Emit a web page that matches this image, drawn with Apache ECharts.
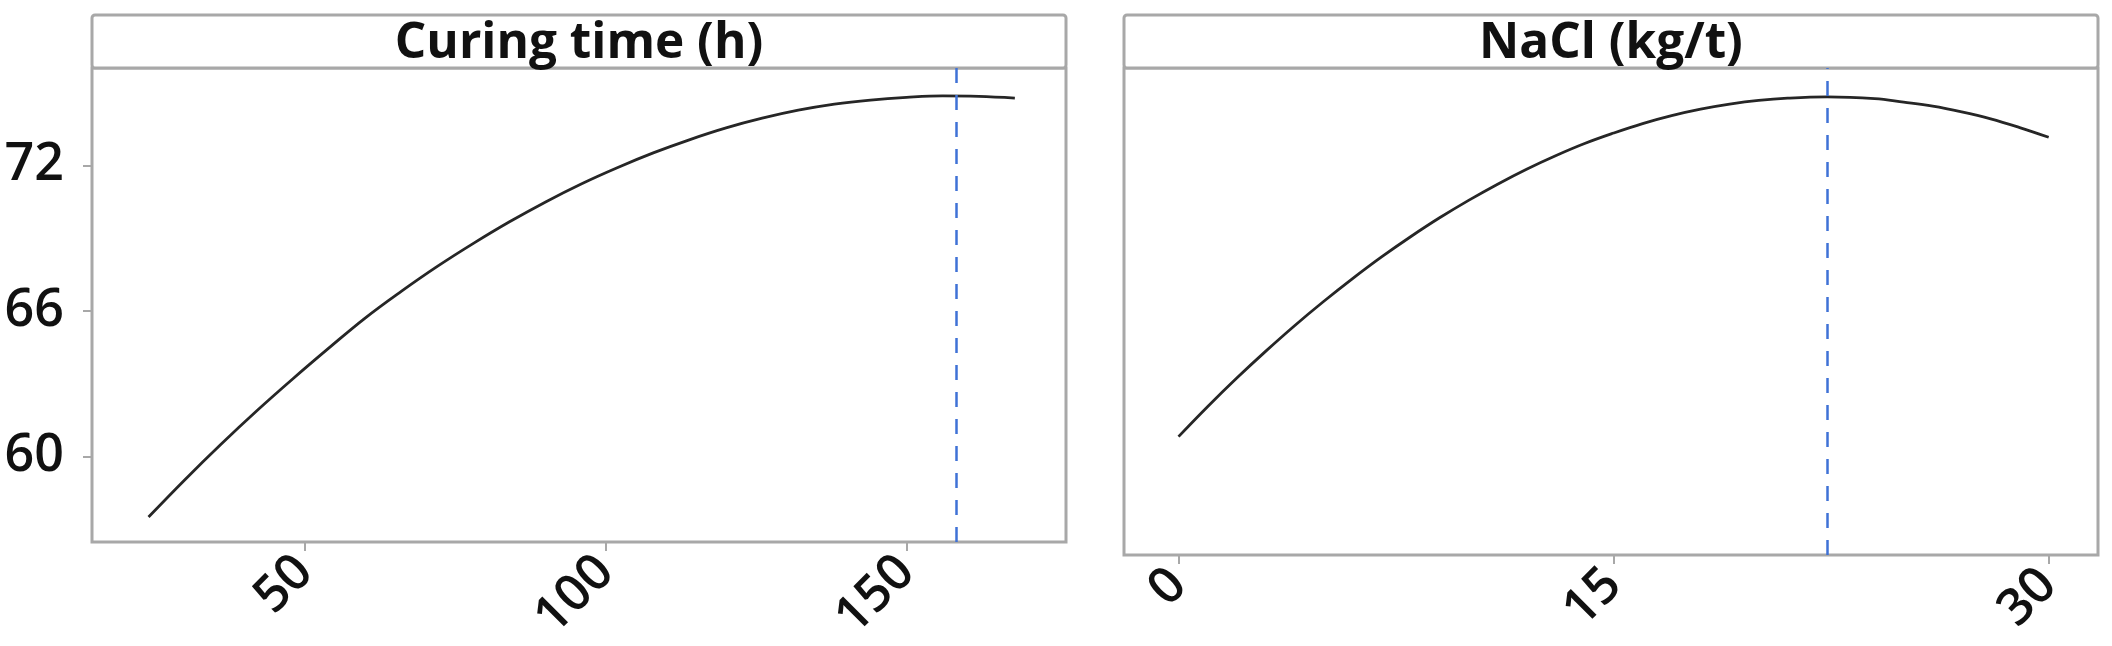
<!DOCTYPE html>
<html>
<head>
<meta charset="utf-8">
<script src="https://cdn.jsdelivr.net/npm/echarts@6/dist/echarts.min.js"></script>
<style>
  html, body { margin: 0; padding: 0; background: #fff; }
  #chart { width: 2112px; height: 646px; }
</style>
</head>
<body>
<div id="chart"></div>
<script>
// Panel titles
const panelTitles = ['Curing time (h)', 'NaCl (kg/t)'];

// Left panel: Curing time (h) vs predicted response
const curingX = [24, 30, 36, 42, 48, 54, 60, 66, 72, 78, 84, 90, 96, 102, 108, 114, 120, 126, 132, 138, 144, 150, 156, 162, 168];
const curingY = [57.50, 59.03, 60.49, 61.88, 63.20, 64.47, 65.70, 66.80, 67.83, 68.78, 69.67, 70.49, 71.24, 71.91, 72.52, 73.06, 73.54, 73.94, 74.27, 74.52, 74.69, 74.80, 74.86, 74.84, 74.77];

// Right panel: NaCl (kg/t) vs predicted response
const naclX = [0, 1, 2, 3, 4, 5, 6, 7, 8, 9, 10, 11, 12, 13, 14, 15, 16, 17, 18, 19, 20, 21, 22.36, 24, 25, 26, 27, 28, 29, 30];
const naclY = [61.22, 62.42, 63.56, 64.64, 65.67, 66.64, 67.56, 68.43, 69.24, 70.00, 70.70, 71.35, 71.95, 72.49, 72.98, 73.40, 73.78, 74.10, 74.36, 74.56, 74.71, 74.80, 74.85, 74.78, 74.64, 74.48, 74.25, 73.97, 73.62, 73.23];

// Optimal settings (dashed lines)
const optimum = [158.2, 22.36];

// Tick labels
const yTicks = [60, 66, 72];
const curingTicks = [50, 100, 150];
const naclTicks = [0, 15, 30];

const frameColor = '#a8a8a8';
const textColor = '#111111';
const fontFam = '"Open Sans", "Noto Sans", sans-serif';

const chart = echarts.init(document.getElementById('chart'), null, { renderer: 'canvas' });

function pairs(xs, ys) { return xs.map((x, i) => [x, ys[i]]); }

const gridLeft = [92, 1124];
const gridWidth = 974;
const gridTop = 68;
const gridHeight = 487;
const stripTop = 15;

function xAxisCfg(idx, min, max, ticks) {
  return {
    type: 'value', gridIndex: idx, min: min, max: max,
    splitLine: { show: false },
    axisLine: { show: false },
    axisTick: { show: true, customValues: ticks, length: 9, lineStyle: { color: frameColor, width: 2 } },
    axisLabel: { customValues: ticks, rotate: 45, margin: 22, fontSize: 51, fontWeight: 600, color: textColor, fontFamily: fontFam }
  };
}

const option = {
  backgroundColor: '#ffffff',
  animation: false,
  grid: gridLeft.map(l => ({
    left: l, top: gridTop, width: gridWidth, height: gridHeight,
    show: true, borderColor: frameColor, borderWidth: 3, backgroundColor: 'transparent'
  })),
  xAxis: [
    xAxisCfg(0, 14.6, 176.5, curingTicks),
    xAxisCfg(1, -1.88, 31.70, naclTicks)
  ],
  yAxis: [
    {
      type: 'value', gridIndex: 0, min: 56.47, max: 76.01,
      splitLine: { show: false },
      axisLine: { show: false },
      axisTick: { show: true, customValues: yTicks, length: 9, lineStyle: { color: frameColor, width: 2 } },
      axisLabel: { customValues: yTicks, margin: 28, fontSize: 52, fontWeight: 600, color: textColor, fontFamily: fontFam }
    },
    {
      type: 'value', gridIndex: 1, min: 56.47, max: 76.01,
      splitLine: { show: false },
      axisLine: { show: false },
      axisTick: { show: false },
      axisLabel: { show: false }
    }
  ],
  graphic: [
    { type: 'rect', shape: { x: gridLeft[0], y: stripTop, width: gridWidth, height: gridTop - stripTop, r: 3 },
      style: { fill: '#ffffff', stroke: frameColor, lineWidth: 3 } },
    { type: 'rect', shape: { x: gridLeft[1], y: stripTop, width: gridWidth, height: gridTop - stripTop, r: 3 },
      style: { fill: '#ffffff', stroke: frameColor, lineWidth: 3 } },
    { type: 'text', x: gridLeft[0] + gridWidth / 2, y: 44, scaleX: 0.99,
      style: { text: panelTitles[0], x: 0, y: 0, align: 'center', verticalAlign: 'middle',
               font: 'bold 50px ' + fontFam, fill: textColor } },
    { type: 'text', x: gridLeft[1] + gridWidth / 2, y: 44, scaleX: 0.99,
      style: { text: panelTitles[1], x: 0, y: 0, align: 'center', verticalAlign: 'middle',
               font: 'bold 50px ' + fontFam, fill: textColor } }
  ],
  series: [
    {
      type: 'line', xAxisIndex: 0, yAxisIndex: 0, data: pairs(curingX, curingY),
      showSymbol: false, smooth: 0.4, lineStyle: { color: '#262626', width: 2.8 },
      markLine: {
        silent: true, symbol: 'none', label: { show: false },
        lineStyle: { color: '#3f72d6', width: 2.5, type: [15, 12] },
        data: [{ xAxis: optimum[0] }]
      }
    },
    {
      type: 'line', xAxisIndex: 1, yAxisIndex: 1, data: pairs(naclX, naclY),
      showSymbol: false, smooth: 0.4, lineStyle: { color: '#262626', width: 2.8 },
      markLine: {
        silent: true, symbol: 'none', label: { show: false },
        lineStyle: { color: '#3f72d6', width: 2.5, type: [15, 12] },
        data: [{ xAxis: optimum[1] }]
      }
    }
  ]
};

chart.setOption(option);
</script>
</body>
</html>
